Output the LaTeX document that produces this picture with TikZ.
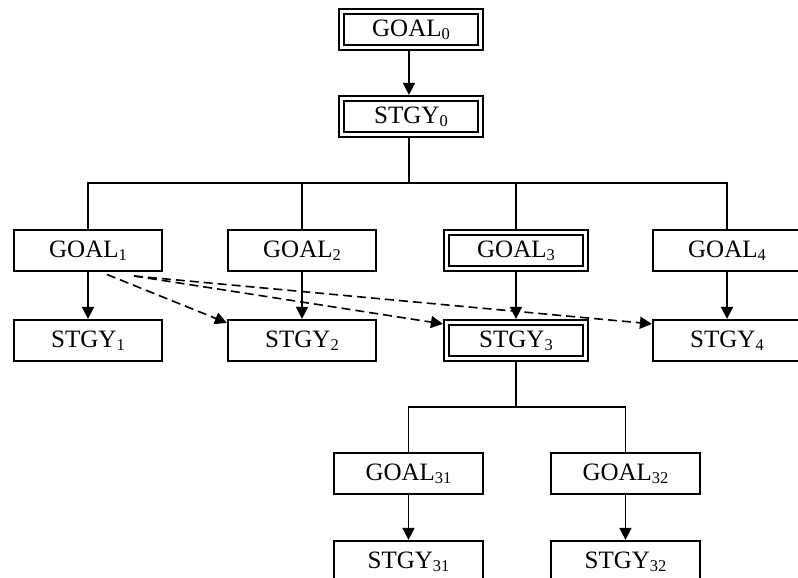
\documentclass[tikz,border=0pt]{standalone}
\usepackage{fontspec}
\setmainfont{Liberation Serif}
\usetikzlibrary{arrows.meta}
\newcommand\sbs[1]{\raisebox{-2.8pt}{\fontsize{16.5}{18}\selectfont #1}}
\begin{document}
\begin{tikzpicture}[x=1pt,y=-1pt,
  lbl/.style={font=\fontsize{25}{30}\selectfont, inner sep=0pt, text height=13.5pt, text depth=0pt},
  box/.style={lbl, draw, line width=1.7pt, minimum width=148.5pt, minimum height=41.5pt},
  dbox/.style={lbl, draw, line width=2.5pt, double, double distance=2.2pt,
    minimum width=139pt, minimum height=36pt, outer sep=3.6pt},
  link/.style={line width=1.6pt},
  arr/.style={link, -{Triangle[length=12pt,width=12pt]}},
  darr/.style={arr, dash pattern=on 9pt off 5pt}]
\useasboundingbox (0,0) rectangle (798,578);

\node[dbox] (g0) at (411,29.5) {GOAL\sbs{0}};
\node[dbox] (s0) at (411,116.5) {STGY\sbs{0}};

\node[box]  (g1) at (88,250.5)  {GOAL\sbs{1}};
\node[box]  (g2) at (302,250.5) {GOAL\sbs{2}};
\node[dbox] (g3) at (516,250.5) {GOAL\sbs{3}};
\node[box]  (g4) at (727,250.5) {GOAL\sbs{4}};

\node[box]  (s1) at (88,340.5)  {STGY\sbs{1}};
\node[box]  (s2) at (302,340.5) {STGY\sbs{2}};
\node[dbox] (s3) at (516,340.5) {STGY\sbs{3}};
\node[box]  (s4) at (727,340.5) {STGY\sbs{4}};

\node[box] (g31) at (408.5,473.5) {GOAL\sbs{31}};
\node[box] (g32) at (625.5,473.5) {GOAL\sbs{32}};
\node[box] (s31) at (408.5,561.5) {STGY\sbs{31}};
\node[box] (s32) at (625.5,561.5) {STGY\sbs{32}};

\coordinate (j0) at (409,183);
\coordinate (j3) at (516,407);
\coordinate (d0) at (107,274.5);
\coordinate (d1) at (134,276);

\draw[arr] (g0.south -| j0) -- (s0.north -| j0);
\draw[link] (s0.south -| j0) -- (j0);
\draw[link] (g1.north) |- (j0) -| (g4.north);
\draw[link] (g2.north) -- (g2.north |- j0);
\draw[link] (g3.north) -- (g3.north |- j0);

\draw[arr] (g1) -- (s1);
\draw[arr] (g2) -- (s2);
\draw[arr] (g3) -- (s3);
\draw[arr] (g4) -- (s4);

\draw[darr] (d0) -- ([yshift=-4pt]s2.north west);
\draw[darr] (d1) -- ([yshift=-5pt]s3.north west);
\draw[darr] (d1) -- ([yshift=-5pt]s4.north west);

\draw[link] (s3) -- (j3);
\draw[link] (g31.north) |- (j3) -| (g32.north);
\draw[arr] (g31) -- (s31);
\draw[arr] (g32) -- (s32);
\end{tikzpicture}
\end{document}
